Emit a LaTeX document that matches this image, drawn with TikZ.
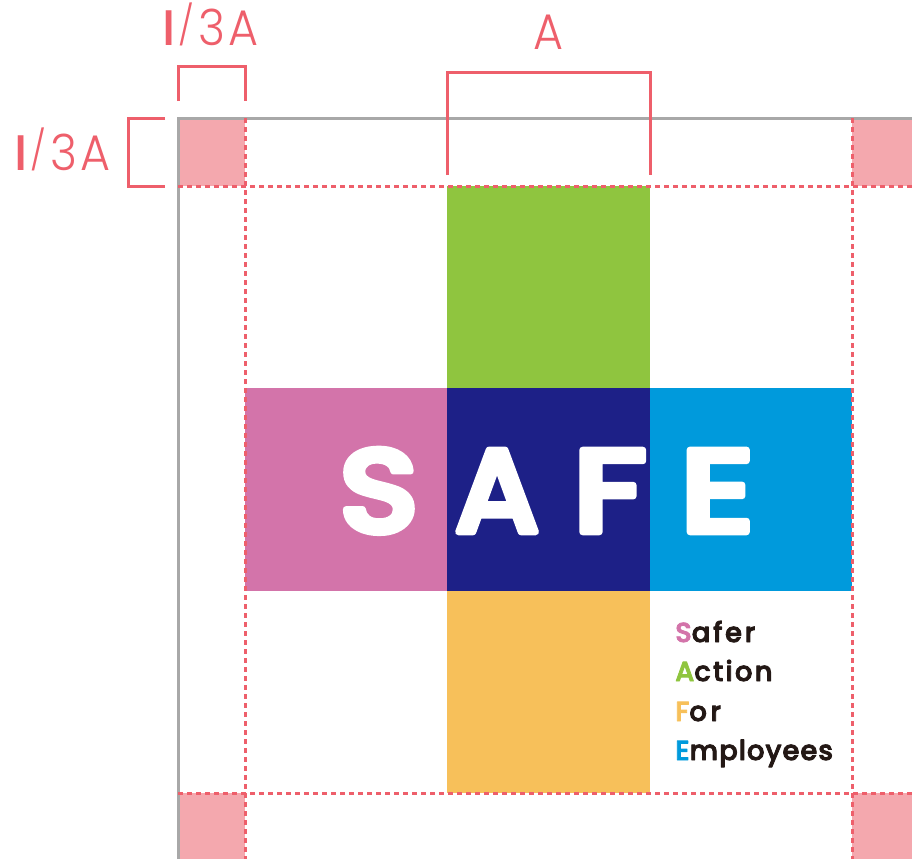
\documentclass[tikz,border=0pt]{standalone}
\usepackage{fontspec}
\setmainfont{Poppins}
\newfontfamily\dimfont[FakeStretch=0.92]{Poppins Light}
\newfontfamily\dimbar{Poppins Medium}
\newfontfamily\logofont[FakeBold=3]{Poppins Medium}
\newfontfamily\bigfont[FakeBold=5.5,FakeStretch=1.14]{Poppins Medium}
\newfontfamily\bigfontA[FakeBold=5.5,FakeStretch=1.04]{Poppins Medium}
\newfontfamily\bigfontE[FakeBold=5.5,FakeStretch=1.25]{Poppins Medium}
\definecolor{dimred}{HTML}{EE5F6B}
\definecolor{cornerpink}{HTML}{F4A8AE}
\definecolor{guidegray}{HTML}{A8A8A8}
\definecolor{sagreen}{HTML}{8FC53F}
\definecolor{sapink}{HTML}{D374AA}
\definecolor{sanavy}{HTML}{1D2087}
\definecolor{sablue}{HTML}{009ADC}
\definecolor{saorange}{HTML}{F7C05A}
\definecolor{inkdark}{HTML}{231815}
\newcommand{\thirdA}{{\dimbar I}\hspace{3pt}\raisebox{6pt}{\scalebox{0.78}{/}}\hspace{4pt}3\hspace{3pt}A}
\tikzset{
  guide/.style={draw=guidegray,line width=3pt},
  dashguide/.style={draw=dimred,line width=3pt,dash pattern=on 5pt off 4pt},
  bracket/.style={draw=dimred,line width=3pt},
  dimlabel/.style={text=dimred,inner sep=0pt,font=\dimfont\fontsize{50}{50}\selectfont},
  bigletter/.style={text=white,inner sep=0pt,font=\bigfont\fontsize{118}{118}\selectfont},
  keyline/.style={anchor=base west,inner sep=0pt,text=inkdark,font=\logofont\fontsize{27.5}{28}\selectfont},
}
\begin{document}
\begin{tikzpicture}[x=1pt,y=-1pt]
\useasboundingbox (0,0) rectangle (912,859);
% corners
\fill[cornerpink] (178,118) rectangle (245,186);
\fill[cornerpink] (852,118) rectangle (912,186);
\fill[cornerpink] (178,793) rectangle (245,859);
\fill[cornerpink] (852,793) rectangle (912,859);
% cross
\fill[sagreen] (447,186) rectangle (650,388);
\fill[sapink] (245,388) rectangle (447,591);
\fill[sanavy] (447,388) rectangle (650,591);
\fill[sablue] (650,388) rectangle (852,591);
\fill[saorange] (447,591) rectangle (650,793);
% guides
\draw[guide] (178,859) -- (178,118) -- (912,118);
\draw[dashguide] (245,118) -- (245,859);
\draw[dashguide] (852,118) -- (852,859);
\draw[dashguide] (178,186) -- (912,186);
\draw[dashguide] (178,793) -- (912,793);
% brackets
\coordinate (ba1) at (178.5,101); \coordinate (ba2) at (178.5,66); \coordinate (ba3) at (245.7,66); \coordinate (ba4) at (245.7,101);
\draw[bracket] (ba1) -- (ba2) -- (ba3) -- (ba4);
\coordinate (bb1) at (165,118); \coordinate (bb2) at (128.5,118); \coordinate (bb3) at (128.5,186); \coordinate (bb4) at (165,186);
\draw[bracket] (bb1) -- (bb2) -- (bb3) -- (bb4);
\coordinate (bc1) at (447,175); \coordinate (bc2) at (447,72); \coordinate (bc3) at (650,72); \coordinate (bc4) at (650,175);
\draw[bracket] (bc1) -- (bc2) -- (bc3) -- (bc4);
% labels
\node[dimlabel,anchor=base] (lt) at (210.5,46) {\thirdA};
\node[dimlabel,anchor=base] (ll) at (62.5,170) {\thirdA};
\node[dimlabel,anchor=base] (la) at (548,50) {A};
% SAFE
\begin{scope}[line join=round]
\pgfsetroundjoin
\node[bigletter,anchor=base] (ls) at (379,532) {S};
\node[bigletter,anchor=base] (lA) at (497,532) {\bigfontA A};
\node[bigletter,anchor=base] (lf) at (609.5,532) {\bigfontE F};
\node[bigletter,anchor=base] (le) at (717.5,532) {\bigfontE E};
% key
\node[keyline] (k1) at (675,642) {\addfontfeature{LetterSpace=10}\textcolor{sapink}{S}afer};
\node[keyline] (k2) at (675,681) {\addfontfeature{LetterSpace=8}\textcolor{sagreen}{A}ction};
\node[keyline] (k3) at (675,721) {\addfontfeature{LetterSpace=13}\textcolor{saorange}{F}or};
\node[keyline] (k4) at (675,760) {\addfontfeature{LetterSpace=3.5}\textcolor{sablue}{E}mployees};
\end{scope}
\end{tikzpicture}
\end{document}
